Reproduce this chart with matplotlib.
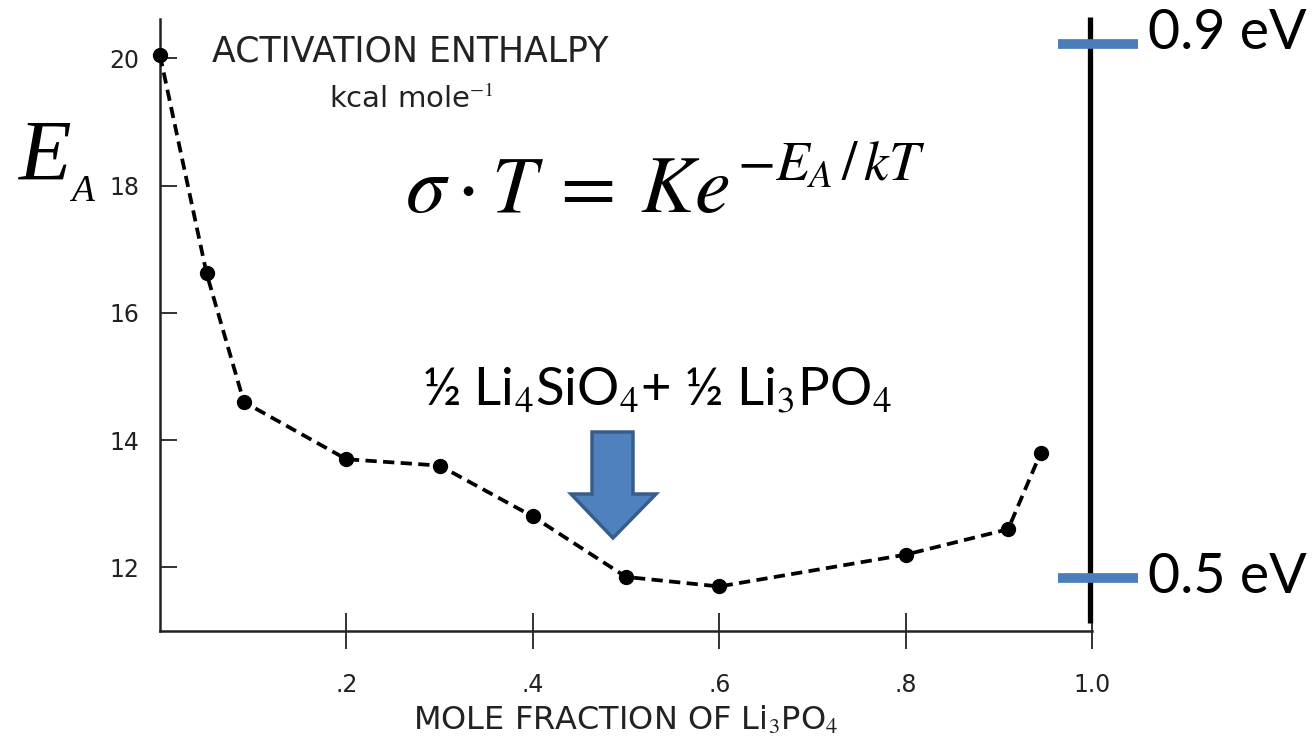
import matplotlib
matplotlib.use("Agg")
import matplotlib.pyplot as plt
from matplotlib.patches import Polygon

# ---- data ----
mole_fraction = [0.0, 0.05, 0.09, 0.2, 0.3, 0.4, 0.5, 0.6, 0.8, 0.91, 0.945]
enthalpy = [20.05, 16.62, 14.6, 13.7, 13.6, 12.8, 11.85, 11.7, 12.2, 12.6, 13.8]
x_ticks = [0.2, 0.4, 0.6, 0.8, 1.0]
x_tick_labels = [".2", ".4", ".6", ".8", "1.0"]
y_ticks = [12, 14, 16, 18, 20]
y_tick_labels = ["12", "14", "16", "18", "20"]
ev_levels = [20.22, 11.84]
ev_labels = ["0.9 eV", "0.5 eV"]

plt.rcParams["mathtext.fontset"] = "stix"

W, H = 1313, 749
fig = plt.figure(figsize=(W / 100, H / 100), dpi=100)
x0, x1, yb, yt = 160, 1092, 631, 19
ax = fig.add_axes([x0 / W, 1 - yb / H, (x1 - x0) / W, (yb - yt) / H])
ax.set_xlim(0, 1.0)
ax.set_ylim(11.0, 20.62)

ax.plot(mole_fraction, enthalpy, ls=(0, (3.0, 1.7)), color="black", lw=2.7,
        marker="o", ms=10, clip_on=False, zorder=3)

for s in ["top", "right"]:
    ax.spines[s].set_visible(False)
for s in ["left", "bottom"]:
    ax.spines[s].set_linewidth(1.8)
    ax.spines[s].set_color("#222222")

ax.set_xticks(x_ticks)
ax.set_xticklabels(x_tick_labels)
ax.set_yticks(y_ticks)
ax.set_yticklabels(y_tick_labels)
ax.tick_params(axis="x", direction="inout", length=26, width=1.3, labelsize=17,
               pad=17, colors="#222222")
ax.tick_params(axis="y", direction="in", length=12, width=1.3, labelsize=17,
               pad=15, colors="#222222")

ax.set_xlabel(r"MOLE FRACTION OF Li$_3$PO$_4$", fontsize=23, color="#222222",
              labelpad=6)

# old-figure title
fig.text(410 / W, 1 - 51 / H, "ACTIVATION ENTHALPY", fontsize=25,
         ha="center", va="center", color="#222222")
fig.text(411 / W, 1 - 100 / H, r"kcal mole$^{-1}$", fontsize=21,
         ha="center", va="center", color="#222222")

# E_A label
fig.text(18 / W, 1 - 180 / H, "E", fontsize=62, family="Liberation Serif",
         style="italic", ha="left", va="baseline")
fig.text(71 / W, 1 - 201 / H, "A", fontsize=27, family="Liberation Serif",
         style="italic", ha="left", va="baseline")

# equation: main part plus raised exponent
base_y = 212
t_main = fig.text(405 / W, 1 - base_y / H, r"$\sigma\cdot T\:=\:Ke$",
                  fontsize=58, ha="left", va="baseline")
fig.canvas.draw()
bb = t_main.get_window_extent()
fig.text((bb.x1 + 8) / W, 1 - (base_y - 31) / H, r"$-E_A\,/\,kT$",
         fontsize=40, ha="left", va="baseline")

# annotation
fig.text(657 / W, 1 - 405 / H, r"½ Li$_4$SiO$_4$+ ½ Li$_3$PO$_4$",
         fontsize=38, family="Lato", ha="center", va="baseline")

# block arrow (in figure pixels)
arrow_pts = [(592, 432), (633, 432), (633, 494), (656, 494), (613, 538),
             (571, 494), (592, 494)]
poly = Polygon([(px / W, 1 - py / H) for px, py in arrow_pts], closed=True,
               transform=fig.transFigure, facecolor="#4F81BD",
               edgecolor="#385D8A", lw=2.5)
fig.patches.append(poly)

# right-hand black bar and eV markers
ax.plot([0.998, 0.998], [11.13, 20.65], color="black", lw=3.8, clip_on=False,
        solid_capstyle="butt", zorder=4)
text_offsets = [0.17, 0.0]
for lev, lab, off in zip(ev_levels, ev_labels, text_offsets):
    ax.plot([0.963, 1.049], [lev, lev], color="#4A7EBB", lw=7, clip_on=False,
            solid_capstyle="butt", zorder=5)
    ax.text(1.06, lev + off, lab, fontsize=40, family="Lato", ha="left",
            va="center", clip_on=False)

fig.savefig("out.png", dpi=100)
